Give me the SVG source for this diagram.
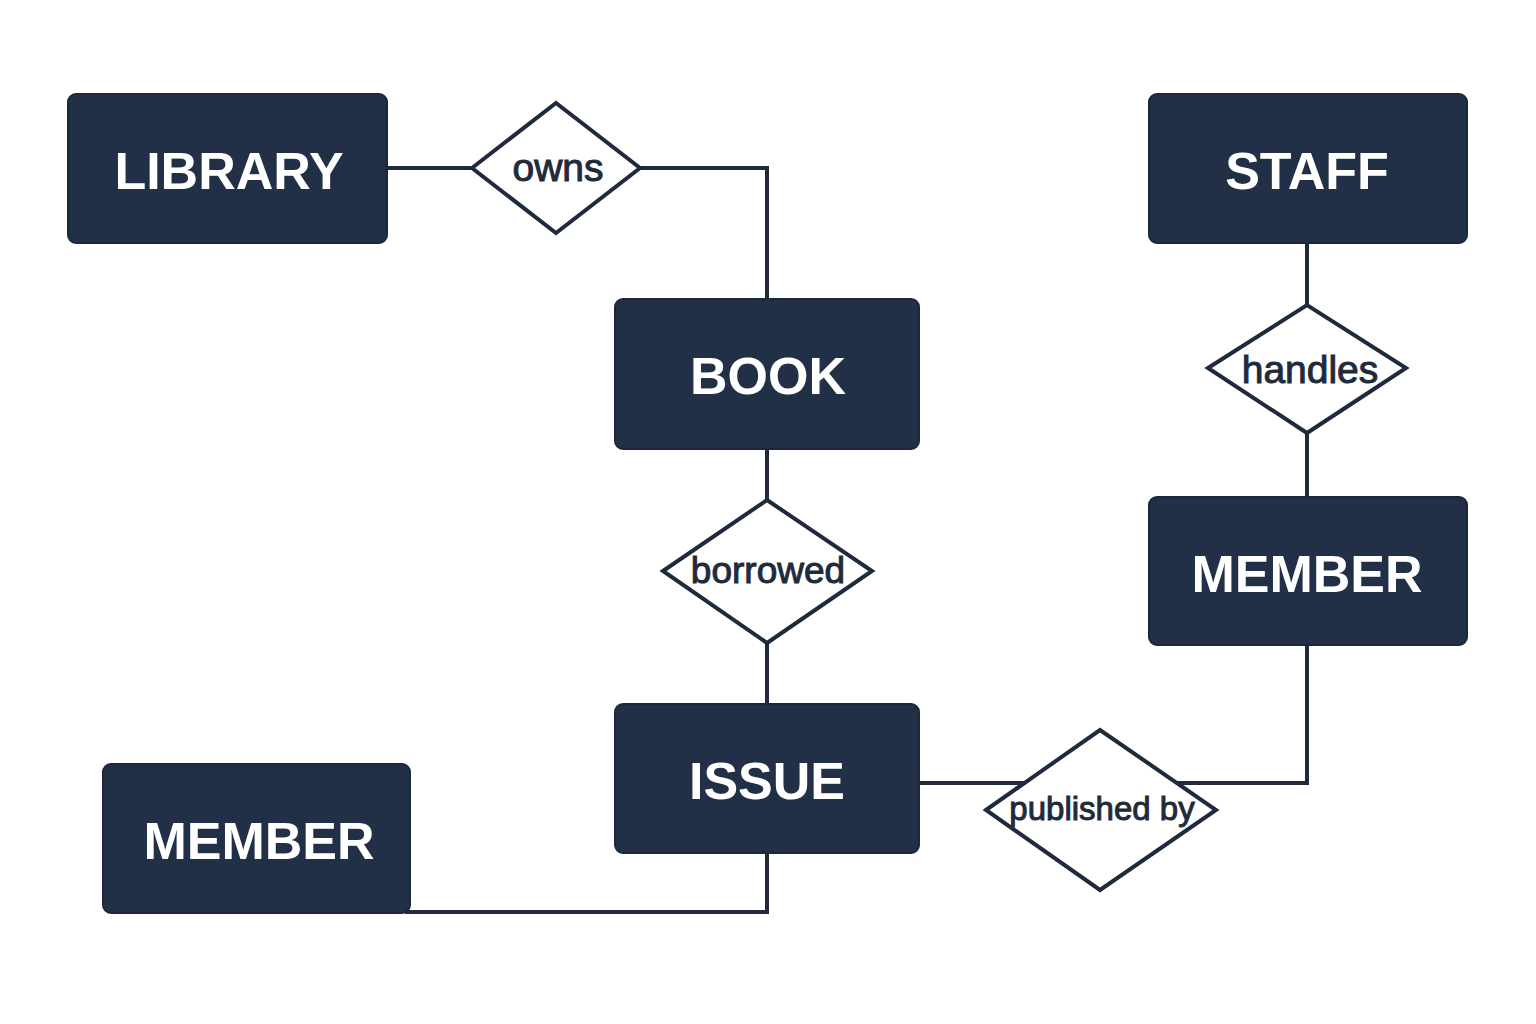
<svg xmlns="http://www.w3.org/2000/svg" width="1536" height="1024" viewBox="0 0 1536 1024">
  <style>
    .entity rect { fill: #223047; stroke: #1c2839; stroke-width: 2; }
    .entity text { fill: #ffffff; font-family: "Liberation Sans", Arial, sans-serif; font-weight: 700; font-size: 52px; text-anchor: middle; }
    .rel polygon { fill: #ffffff; stroke: #1f2b3c; stroke-width: 4; stroke-linejoin: miter; }
    .rel text { fill: #1f2b3c; font-family: "Liberation Sans", Arial, sans-serif; font-size: 37px; text-anchor: middle; stroke: #1f2b3c; stroke-width: 1; }
    .conn { fill: none; stroke: #1f2b3c; stroke-width: 4; }
  </style>
  <rect width="1536" height="1024" fill="#ffffff"/>
  <g id="connectors">
    <path class="conn" d="M387 168 H472"/>
    <path class="conn" d="M640 168 H767 V299"/>
    <path class="conn" d="M767 449 V500"/>
    <path class="conn" d="M767 643 V704"/>
    <path class="conn" d="M1307 243 V305"/>
    <path class="conn" d="M1307 433 V497"/>
    <path class="conn" d="M1307 645 V783 H1177"/>
    <path class="conn" d="M919 783 H1025"/>
    <path class="conn" d="M767 853 V912 H405"/>
  </g>
  <g id="library" class="entity">
    <rect x="68" y="94" width="319" height="149" rx="8"/>
    <text x="229" y="189">LIBRARY</text>
  </g>
  <g id="staff" class="entity">
    <rect x="1149" y="94" width="318" height="149" rx="8"/>
    <text x="1307" y="189">STAFF</text>
  </g>
  <g id="book" class="entity">
    <rect x="615" y="299" width="304" height="150" rx="8"/>
    <text x="768" y="394">BOOK</text>
  </g>
  <g id="member-right" class="entity">
    <rect x="1149" y="497" width="318" height="148" rx="8"/>
    <text x="1307" y="592">MEMBER</text>
  </g>
  <g id="issue" class="entity">
    <rect x="615" y="704" width="304" height="149" rx="8"/>
    <text x="767" y="799">ISSUE</text>
  </g>
  <g id="member-left" class="entity">
    <rect x="103" y="764" width="307" height="149" rx="8"/>
    <text x="259" y="859">MEMBER</text>
  </g>
  <g id="owns" class="rel">
    <polygon points="472,168 556,103 640,168 556,233"/>
    <text x="558" y="181" style="font-size:39px">owns</text>
  </g>
  <g id="handles" class="rel">
    <polygon points="1208,368 1307,305 1406,368 1307,433"/>
    <text x="1310" y="383" style="font-size:39px">handles</text>
  </g>
  <g id="borrowed" class="rel">
    <polygon points="663,571 767,500 872,571 767,643"/>
    <text x="768" y="583">borrowed</text>
  </g>
  <g id="published-by" class="rel">
    <polygon points="986,810 1100,730 1216,810 1100,890"/>
    <text x="1102" y="820" style="font-size:33px">published by</text>
  </g>
</svg>
